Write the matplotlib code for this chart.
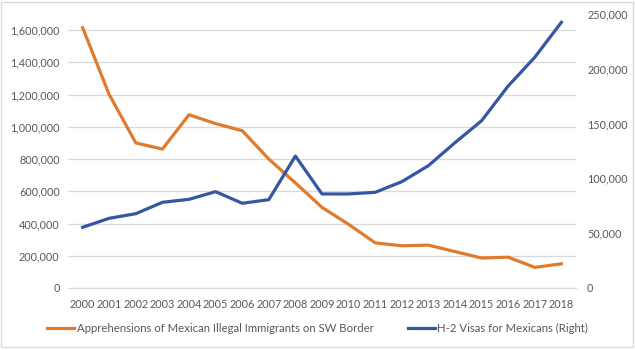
import numpy as np
import matplotlib
matplotlib.use("Agg")
from matplotlib import pyplot as plt
from matplotlib.ticker import FuncFormatter, MultipleLocator
from matplotlib.patches import Rectangle

years = list(range(2000, 2019))
apprehensions = [1615000, 1200000, 900000, 862000, 1075000, 1020000, 976000, 800000,
                 652000, 500000, 395000, 280000, 262000, 266000, 226000, 186000,
                 191000, 128000, 150000]
h2_visas = [55400, 63600, 67800, 78200, 80900, 87900, 77300, 80600, 120400, 85800,
            85800, 87300, 97000, 111600, 132600, 152600, 184300, 210500, 242400]

label_left = "Apprehensions of Mexican Illegal Immigrants on SW Border"
label_right = "H-2 Visas for Mexicans (Right)"

orange = "#E07A2C"
blue = "#3456A3"
text_gray = "#595959"
grid_gray = "#D9D9D9"

plt.rcParams["font.family"] = ["Lato", "DejaVu Sans"]
fs = 7.8

fig = plt.figure(figsize=(6.35, 3.5), dpi=100)
ax = fig.add_axes([68 / 635, 62 / 350, (576 - 68) / 635, (336 - 62) / 350])
ax2 = ax.twinx()

x = np.arange(len(years))
l1, = ax.plot(x, apprehensions, color=orange, lw=2.3, solid_joinstyle="round")
l2, = ax2.plot(x, h2_visas, color=blue, lw=2.3, solid_joinstyle="round")

ax.set_xlim(-0.55, len(years) - 0.45)
ax.set_ylim(0, 1700000)
ax2.set_ylim(0, 250000)
ax.yaxis.set_major_locator(MultipleLocator(200000))
ax2.yaxis.set_major_locator(MultipleLocator(50000))
fmt = FuncFormatter(lambda v, p: f"{int(v):,}")
ax.yaxis.set_major_formatter(fmt)
ax2.yaxis.set_major_formatter(fmt)
ax.set_xticks(x)
ax.set_xticklabels([str(y) for y in years])

ax.grid(axis="y", color=grid_gray, lw=0.9)
ax.set_axisbelow(True)
for a in (ax, ax2):
    for s in a.spines.values():
        s.set_visible(False)
    a.tick_params(length=0, labelsize=fs, colors=text_gray)
ax.spines["bottom"].set_visible(True)
ax.spines["bottom"].set_color(grid_gray)
ax.tick_params(axis="x", pad=8)
ax.tick_params(axis="y", pad=6)
ax2.tick_params(axis="y", pad=8)

fig.legend([l1, l2], [label_left, label_right], loc="center", ncol=2,
           bbox_to_anchor=(0.5, 1 - 328 / 350), frameon=False, fontsize=fs + 0.4,
           labelcolor=text_gray, handlelength=2.4, handletextpad=0.2, columnspacing=3.0)

fig.patches.append(Rectangle((1 / 635, 3 / 350), 632 / 635, 345 / 350, transform=fig.transFigure,
                             fill=False, edgecolor="#D9D9D9", lw=1))

fig.savefig("out.png", dpi=100)
